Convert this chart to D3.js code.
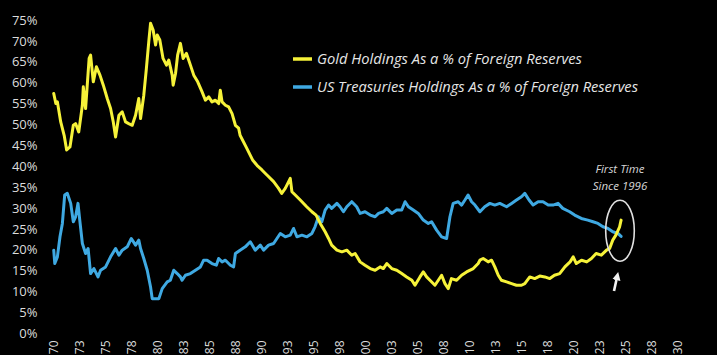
<!DOCTYPE html>
<html>
<head>
<meta charset="utf-8">
<script src="https://cdn.jsdelivr.net/npm/d3@7"></script>
<style>
  html, body { margin: 0; padding: 0; background: #000; }
  svg { display: block; }
</style>
</head>
<body>
<svg id="chart" width="717" height="355"></svg>
<script>
// ---- Data ----
const goldData = [
  [1970.1,57.4],[1970.3,55.0],[1970.45,55.4],[1970.77,50.6],[1971.1,47.4],[1971.34,43.9],[1971.66,44.6],
  [1971.98,49.8],[1972.2,50.2],[1972.5,48.2],[1972.85,54.6],[1972.94,59.0],[1973.16,53.8],[1973.5,65.8],
  [1973.64,66.6],[1973.9,60.2],[1974.2,63.8],[1974.54,61.8],[1974.86,59.4],[1975.24,56.2],[1975.56,53.8],
  [1975.82,50.6],[1976.04,47.0],[1976.36,52.2],[1976.68,53.0],[1977.0,50.6],[1977.3,50.2],[1977.64,49.8],
  [1977.96,52.2],[1978.27,56.2],[1978.44,51.4],[1978.75,57.0],[1979.0,63.4],[1979.23,69.8],[1979.4,74.2],
  [1979.65,72.6],[1979.88,69.0],[1980.04,71.4],[1980.29,70.2],[1980.6,65.8],[1980.93,64.2],[1981.15,65.4],
  [1981.48,61.8],[1981.57,59.4],[1981.8,62.2],[1982.0,66.6],[1982.27,69.4],[1982.53,65.8],[1982.85,67.0],
  [1983.23,64.2],[1983.55,61.8],[1983.93,60.2],[1984.35,57.8],[1984.67,55.8],[1984.99,56.6],[1985.3,55.4],
  [1985.63,55.8],[1985.94,55.0],[1986.1,58.2],[1986.27,55.4],[1986.59,54.6],[1986.9,54.2],[1987.23,52.6],
  [1987.55,49.8],[1987.86,49.1],[1988.0,47.4],[1988.6,44.5],[1989.2,41.5],[1989.7,40.0],[1990.1,39.1],
  [1990.58,37.9],[1991.22,36.3],[1991.7,34.7],[1992.0,33.5],[1992.34,34.7],[1992.82,37.1],[1992.98,33.9],
  [1993.3,33.1],[1993.78,31.9],[1994.4,30.3],[1994.9,29.1],[1995.3,28.3],[1995.7,26.3],[1996.17,24.3],
  [1996.5,22.7],[1996.8,21.1],[1997.3,19.9],[1997.78,19.5],[1998.25,19.9],[1998.73,18.7],[1999.05,19.1],
  [1999.53,17.1],[2000.0,16.3],[2000.5,15.5],[2000.97,15.1],[2001.45,15.9],[2001.76,15.5],[2002.09,16.7],
  [2002.57,15.5],[2003.05,15.1],[2003.53,14.3],[2004.0,13.5],[2004.5,12.7],[2004.8,11.5],[2005.28,13.5],
  [2005.6,14.7],[2005.92,13.5],[2006.24,12.7],[2006.72,11.5],[2007.04,12.7],[2007.36,13.9],[2007.68,11.9],
  [2008.0,10.7],[2008.3,13.1],[2008.8,12.7],[2009.28,13.9],[2009.76,14.7],[2010.4,15.5],[2010.87,16.7],
  [2011.04,17.5],[2011.35,17.9],[2011.83,17.1],[2012.16,17.5],[2012.47,15.9],[2012.8,13.9],[2013.1,12.7],
  [2013.6,12.3],[2014.08,11.9],[2014.55,11.5],[2015.03,11.5],[2015.35,11.9],[2015.83,13.5],[2016.3,13.1],
  [2016.79,13.7],[2017.27,13.5],[2017.75,13.1],[2018.2,13.9],[2018.7,14.3],[2019.2,15.9],[2019.7,17.1],
  [2020.0,18.3],[2020.3,16.7],[2020.8,17.5],[2021.3,17.1],[2021.75,17.9],[2022.2,19.1],[2022.7,18.7],
  [2023.2,19.9],[2023.5,20.3],[2023.8,22.3],[2024.1,23.5],[2024.46,25.5],[2024.6,27.1]
];

const treasuryData = [
  [1970.1,19.9],[1970.2,16.7],[1970.45,18.3],[1970.7,23.1],[1970.93,26.3],[1971.15,33.1],[1971.4,33.5],
  [1971.73,31.1],[1971.98,26.7],[1972.2,27.9],[1972.43,31.1],[1972.6,27.1],[1972.85,21.5],[1973.16,19.1],
  [1973.4,20.3],[1973.64,14.3],[1973.96,15.5],[1974.35,13.5],[1974.6,15.1],[1975.08,15.9],[1975.56,18.3],
  [1976.04,20.3],[1976.36,18.7],[1976.68,19.9],[1977.16,20.7],[1977.55,22.7],[1977.96,21.1],[1978.27,22.3],
  [1978.44,20.3],[1978.75,17.9],[1979.08,15.1],[1979.4,11.1],[1979.56,8.3],[1979.88,8.3],[1980.2,8.3],
  [1980.52,10.7],[1981.0,12.3],[1981.3,12.7],[1981.63,15.1],[1981.96,14.3],[1982.27,13.5],[1982.43,12.7],
  [1982.75,13.9],[1983.23,14.3],[1983.71,15.1],[1984.19,15.9],[1984.5,17.5],[1984.83,17.5],[1985.3,16.7],
  [1985.72,16.3],[1985.94,17.9],[1986.27,17.1],[1986.59,17.5],[1987.07,16.3],[1987.38,15.9],[1987.55,19.1],
  [1988.0,19.9],[1988.5,20.7],[1988.98,21.9],[1989.46,19.9],[1989.94,21.1],[1990.26,19.9],[1990.74,21.1],
  [1991.22,21.5],[1991.54,22.7],[1991.86,23.9],[1992.34,23.1],[1992.82,23.5],[1993.14,25.1],[1993.46,23.1],
  [1993.94,23.5],[1994.42,23.1],[1994.9,23.9],[1995.2,25.5],[1995.53,27.9],[1995.85,26.7],[1996.17,29.5],
  [1996.5,30.7],[1996.8,29.9],[1997.3,31.1],[1997.6,30.3],[1997.93,29.1],[1998.25,30.3],[1998.73,31.5],
  [1999.2,30.3],[1999.53,28.7],[2000.0,29.1],[2000.5,28.3],[2000.97,27.9],[2001.3,28.7],[2001.76,29.1],
  [2002.09,29.9],[2002.57,28.7],[2003.05,29.5],[2003.53,29.5],[2003.85,31.5],[2004.17,30.3],[2004.64,29.5],
  [2005.12,28.7],[2005.6,27.1],[2006.08,26.3],[2006.4,26.7],[2006.88,24.7],[2007.36,23.1],[2007.84,22.7],
  [2008.16,27.9],[2008.47,31.1],[2008.95,31.5],[2009.28,30.7],[2009.6,31.9],[2009.9,33.1],[2010.24,31.5],
  [2010.56,30.7],[2011.04,29.1],[2011.5,30.3],[2012.0,31.1],[2012.47,30.7],[2012.95,31.1],[2013.6,30.3],
  [2014.08,31.1],[2014.55,31.9],[2015.03,32.7],[2015.35,33.5],[2015.76,31.9],[2016.15,30.7],[2016.63,31.5],
  [2017.1,31.5],[2017.6,30.7],[2018.06,30.7],[2018.54,31.1],[2019.0,29.9],[2019.66,29.1],[2020.14,28.3],
  [2020.78,27.5],[2021.4,27.1],[2021.9,26.7],[2022.38,26.3],[2022.86,25.5],[2023.34,25.1],[2023.8,24.3],
  [2024.3,23.9],[2024.6,23.2]
];

const yTicks = [0,5,10,15,20,25,30,35,40,45,50,55,60,65,70,75];
const xTickLabels = ["70","73","75","78","80","83","85","88","90","93","95","98","00",
                     "03","05","08","10","13","15","18","20","23","25","28","30"];
const xTickYears = xTickLabels.map((d, i) => 1970 + i * 2.5);

const seriesNames = ["Gold Holdings As a % of Foreign Reserves",
                     "US Treasuries Holdings As a % of Foreign Reserves"];
const seriesColors = ["#f6f239", "#3fa9e2"];
const noteLines = ["First Time", "Since 1996"];

// ---- Chart ----
const svg = d3.select("#chart");
svg.append("rect").attr("width", 717).attr("height", 355).attr("fill", "#000");

const x = d3.scaleLinear().domain([1970, 2030]).range([52.7, 677.3]);
const y = d3.scaleLinear().domain([0, 75]).range([333.3, 20]);

// Y axis labels
const yAxis = d3.axisLeft(y).tickValues(yTicks).tickFormat(d => d + "%").tickSize(0).tickPadding(0);
const yg = svg.append("g").attr("transform", "translate(37.5,0)").call(yAxis);
yg.select(".domain").remove();
yg.selectAll("text")
  .attr("fill", "#dcdcdc")
  .style("font-family", "'Open Sans', sans-serif")
  .style("font-size", "13px");

// X axis labels (rotated)
const xAxis = d3.axisBottom(x).tickValues(xTickYears)
  .tickFormat((d, i) => xTickLabels[i]).tickSize(0).tickPadding(0);
const xg = svg.append("g").attr("transform", "translate(0,340.5)").call(xAxis);
xg.select(".domain").remove();
xg.selectAll("text")
  .attr("fill", "#dcdcdc")
  .style("font-family", "'Open Sans', sans-serif")
  .style("font-size", "12px")
  .attr("transform", "rotate(-90)")
  .attr("text-anchor", "end")
  .attr("x", 0)
  .attr("y", 0)
  .attr("dy", "0.36em");

// Lines
const line = d3.line().x(d => x(d[0])).y(d => y(d[1])).curve(d3.curveLinear);
[treasuryData, goldData].forEach((data, k) => {
  const color = k === 0 ? seriesColors[1] : seriesColors[0];
  svg.append("path")
    .datum(data)
    .attr("d", line)
    .attr("fill", "none")
    .attr("stroke", color)
    .attr("stroke-width", 3)
    .attr("stroke-linejoin", "round")
    .attr("stroke-linecap", "round");
});

// Legend
const legendY = [59, 87];
const legendTargetW = [265, 321];
seriesNames.forEach((name, i) => {
  svg.append("line")
    .attr("x1", 293).attr("x2", 312)
    .attr("y1", legendY[i]).attr("y2", legendY[i])
    .attr("stroke", seriesColors[i]).attr("stroke-width", 3.5);
  const t = svg.append("text")
    .attr("x", 317).attr("y", legendY[i])
    .attr("dy", "0.36em")
    .attr("fill", "#e6e6e6")
    .style("font-family", "'Open Sans', sans-serif")
    .style("font-style", "italic")
    .style("font-size", "14px")
    .text(name);
  const w = t.node().getComputedTextLength();
  t.style("font-size", (14 * legendTargetW[i] / w).toFixed(2) + "px");
});

// Annotation
svg.append("text")
  .attr("x", 620).attr("y", 172.5)
  .attr("text-anchor", "middle")
  .attr("fill", "#d6d6d6")
  .style("font-family", "'Open Sans', sans-serif")
  .style("font-style", "italic")
  .style("font-size", "11.5px")
  .text(noteLines[0]);
svg.append("text")
  .attr("x", 620).attr("y", 189.5)
  .attr("text-anchor", "middle")
  .attr("fill", "#d6d6d6")
  .style("font-family", "'Open Sans', sans-serif")
  .style("font-style", "italic")
  .style("font-size", "11.5px")
  .text(noteLines[1]);

svg.append("ellipse")
  .attr("cx", 620).attr("cy", 230.7)
  .attr("rx", 14.3).attr("ry", 30.5)
  .attr("fill", "none")
  .attr("stroke", "#e0e0e0")
  .attr("stroke-width", 1.6);

// Arrow
const defs = svg.append("defs");
defs.append("marker")
  .attr("id", "ah").attr("viewBox", "0 0 10 10")
  .attr("refX", 5).attr("refY", 5)
  .attr("markerWidth", 3.2).attr("markerHeight", 3.2)
  .attr("orient", "auto")
  .append("path").attr("d", "M0,0 L10,5 L0,10 Z").attr("fill", "#f2f2f2");
svg.append("line")
  .attr("x1", 614).attr("y1", 291)
  .attr("x2", 617.3).attr("y2", 276)
  .attr("stroke", "#f2f2f2").attr("stroke-width", 2.6)
  .attr("marker-end", "url(#ah)");
</script>
</body>
</html>
